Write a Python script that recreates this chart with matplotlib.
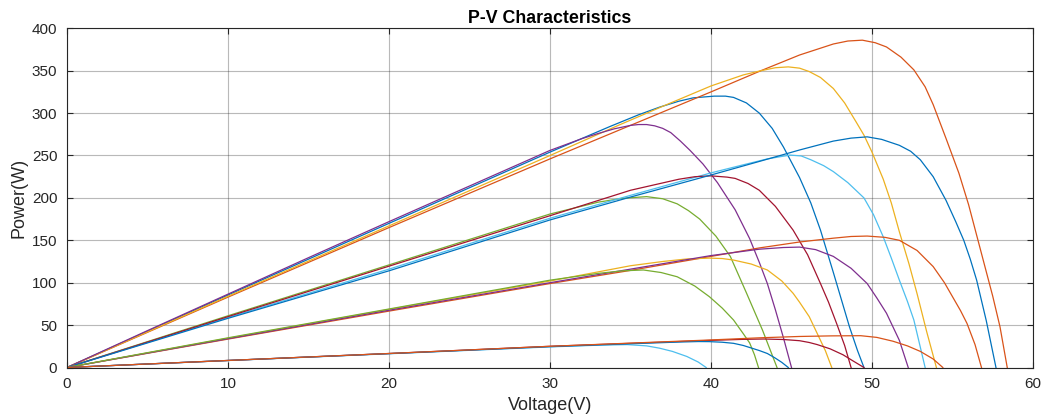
import matplotlib
matplotlib.use("Agg")
import matplotlib.pyplot as plt

plt.rcParams['font.family'] = ['Liberation Sans', 'DejaVu Sans']

# MATLAB default colour order
c_blue = '#0072BD'; c_orange = '#D95319'; c_yellow = '#EDB120'; c_purple = '#7E2F8E'
c_green = '#77AC30'; c_lblue = '#4DBEEE'; c_dred = '#A2142F'

# ---- Group A (highest irradiance) ----
v0 = [0, 10, 20, 30, 33.7, 35.5, 36.8, 38, 38.9, 40.2, 40.9, 41.4, 42.2, 43.0, 43.8, 44.5, 45.5, 46.2, 46.8, 47.6, 48.1, 48.6, 49.1, 49.5]
p0 = [0, 85.5, 170, 254, 284, 298, 307, 314, 318, 320, 320, 318.5, 312, 300, 282, 260, 224, 194, 162, 112, 80, 48, 20, 0]

v1 = [0, 10, 20, 30, 34.3, 40, 43.1, 45.5, 47.6, 48.5, 49.4, 50.2, 50.9, 51.8, 52.6, 53.3, 53.8, 54.6, 55.4, 56.0, 56.5, 57.0, 57.5, 57.95, 58.4]
p1 = [0, 83, 165, 246, 280, 325, 350, 368.5, 381.5, 385, 386, 383, 378, 366, 351, 331, 310, 270, 229, 192, 156, 120, 84, 48, 0]

v2 = [0, 10, 20, 30, 34.3, 37, 40, 42, 43.1, 44, 44.8, 45.5, 46.1, 46.8, 47.6, 48.3, 49.0, 49.5, 50.0, 50.7, 51.2, 51.7, 52.3, 52.8, 53.4, 54.0]
p2 = [0, 84, 167, 250, 286, 308, 332, 345, 350, 353.5, 354.5, 353, 349, 342, 329, 312, 290, 274, 254, 222, 194, 160, 122, 87, 42, 0]

v3 = [0, 5, 10, 15, 20, 25, 30, 32, 33, 34, 35, 35.5, 36, 36.5, 37, 37.5, 38.1, 38.7, 39.5, 40.4, 41.5, 42.4, 43.0, 43.5, 44.0, 44.5, 45.0]
p3 = [0, 43.5, 86.5, 129.5, 172, 214, 256, 270, 276, 281.5, 285.5, 286.5, 286.5, 285, 282, 277, 267, 256, 240, 218, 186, 152, 124, 99, 68, 35, 0]

# ---- Group B ----
v4 = [0, 10, 20, 30, 33, 34.5, 36, 37, 37.9, 38.6, 39.3, 40.3, 41.2, 42.2, 43.2, 44.1]
p4 = [0, 61, 121, 181, 195, 199.5, 201.5, 199, 193, 185, 175, 155, 131, 88, 44, 0]

v5 = [0, 10, 20, 30, 35, 40, 42, 43.5, 44.9, 45.6, 46.2, 47.0, 47.6, 48.5, 49.5, 50.1, 50.7, 51.2, 51.7, 52.2, 52.6, 53.3]
p5 = [0, 59, 116, 176, 203, 229.5, 239, 246, 250.5, 249.5, 245, 238, 231, 218, 200, 180, 154, 129, 103, 78, 56, 0]

v6 = [0, 10, 20, 30, 35, 38, 39, 40, 41, 41.5, 42.3, 43, 44, 45.1, 46, 46.8, 47.3, 47.8, 48.3, 48.7]
p6 = [0, 60, 119.5, 179, 209, 222, 225, 226, 224.5, 223, 217, 209, 190, 162, 133, 99, 77, 52, 26, 0]

v7 = [0, 10, 20, 30, 35, 40, 43, 45.5, 47.6, 48.7, 49.7, 50.6, 51.7, 52.4, 53.0, 53.8, 54.6, 55.2, 55.7, 56.1, 56.5, 57.1, 57.7]
p7 = [0, 58, 114, 174, 201, 227, 243, 256.5, 267, 270.5, 272, 269, 262, 255, 245, 225, 197, 172, 150, 128, 103, 55, 0]

# ---- Group C ----
v8 = [0, 10, 20, 30, 35, 40, 43, 45.5, 47.6, 48.7, 49.7, 50.8, 51.7, 52.8, 53.8, 54.5, 55.0, 55.5, 55.9, 56.4, 56.8]
p8 = [0, 33.5, 66.5, 99, 114.5, 131, 141, 148, 152.5, 154.5, 155, 153.5, 150, 138, 119, 100, 83.5, 67, 52, 27, 0]

v9 = [0, 10, 20, 30, 35, 37, 38.5, 39.9, 40.7, 41.4, 42.5, 43.5, 44.4, 45.1, 45.5, 46.1, 46.6, 47.1, 47.5]
p9 = [0, 34.5, 68.5, 102, 120, 125, 128, 129, 128.5, 126.7, 122, 115, 102, 87.5, 77, 60, 40, 20, 0]

v10 = [0, 10, 20, 30, 35, 40, 43, 44.5, 45.5, 46.5, 47.6, 48.7, 49.7, 50.3, 50.9, 51.3, 51.7, 52.25]
p10 = [0, 34, 67.5, 100, 116, 132, 139.5, 141.5, 142, 139, 131, 117, 99, 82, 64, 48, 32, 0]

v11 = [0, 10, 20, 30, 33, 34.5, 35.8, 36.9, 37.9, 39, 39.9, 40.7, 41.4, 42.0, 42.4, 42.7, 42.95]
p11 = [0, 35, 69, 103, 111, 114, 115, 112, 107, 96, 83.5, 70, 56, 40, 29, 15, 0]

# ---- Group D (lowest irradiance) ----
v12 = [0, 10, 20, 30, 33, 34.8, 36, 36.8, 37.6, 38.5, 39.2, 39.7]
p12 = [0, 8.2, 16.2, 24.3, 26.3, 27, 25.5, 22.8, 19, 13, 6.5, 0]

v13 = [0, 10, 20, 30, 40, 42, 43.3, 44.5, 45.5, 46.1, 46.6, 47.4, 48.2, 48.8, 49.5]
p13 = [0, 8.3, 16.5, 25, 32, 33.2, 33.6, 33, 31.6, 29.5, 27, 22, 15, 8, 0]

v14 = [0, 10, 20, 30, 35, 38, 39.2, 39.9, 40.7, 41.4, 42.0, 42.5, 43.0, 43.5, 44.0, 44.4, 44.8]
p14 = [0, 8.3, 16.4, 24.6, 28, 30, 30.6, 30.5, 29.8, 28.5, 26, 23, 20, 16.5, 11, 6, 0]

v15 = [0, 10, 20, 30, 40, 43, 45.5, 47.5, 49.3, 50.3, 51.3, 52.2, 53.0, 53.8, 54.4]
p15 = [0, 8.3, 16.5, 25, 32.5, 35, 36.6, 37.3, 37.5, 35.5, 31, 25.5, 19, 10, 0]

voltages = [v0, v1, v2, v3, v4, v5, v6, v7, v8, v9, v10, v11, v12, v13, v14, v15]
powers = [p0, p1, p2, p3, p4, p5, p6, p7, p8, p9, p10, p11, p12, p13, p14, p15]
colors = [c_blue, c_orange, c_yellow, c_purple, c_green, c_lblue, c_dred, c_blue,
          c_orange, c_yellow, c_purple, c_green, c_lblue, c_dred, c_blue, c_orange]

x_ticks = [0, 10, 20, 30, 40, 50, 60]
y_ticks = [0, 50, 100, 150, 200, 250, 300, 350, 400]

fig = plt.figure(figsize=(10.45, 4.19), dpi=100)
ax = fig.add_axes([67/1045, 1 - 367.5/419, (1033-67)/1045, (367.5-28.3)/419])

for v, p, c in zip(voltages, powers, colors):
    ax.plot(v, p, color=c, linewidth=0.9, solid_joinstyle='round')

ax.set_xlim(0, 60)
ax.set_ylim(0, 400)
ax.set_xticks(x_ticks)
ax.set_yticks(y_ticks)
ax.grid(True, color='#262626', alpha=0.32, linewidth=0.8)
ax.set_axisbelow(True)
ax.tick_params(direction='in', top=True, right=True, length=4, width=0.8,
               colors='#262626', labelsize=11, labelcolor='#262626', pad=7)
for s in ax.spines.values():
    s.set_color('#262626')
    s.set_linewidth(0.8)

ax.set_title('P-V Characteristics', fontsize=12.8, fontweight='bold', color='black', pad=4)
ax.set_xlabel('Voltage(V)', fontsize=13, color='#262626', labelpad=4)
ax.set_ylabel('Power(W)', fontsize=13, color='#262626', labelpad=3)

fig.savefig('out.png', dpi=100)
